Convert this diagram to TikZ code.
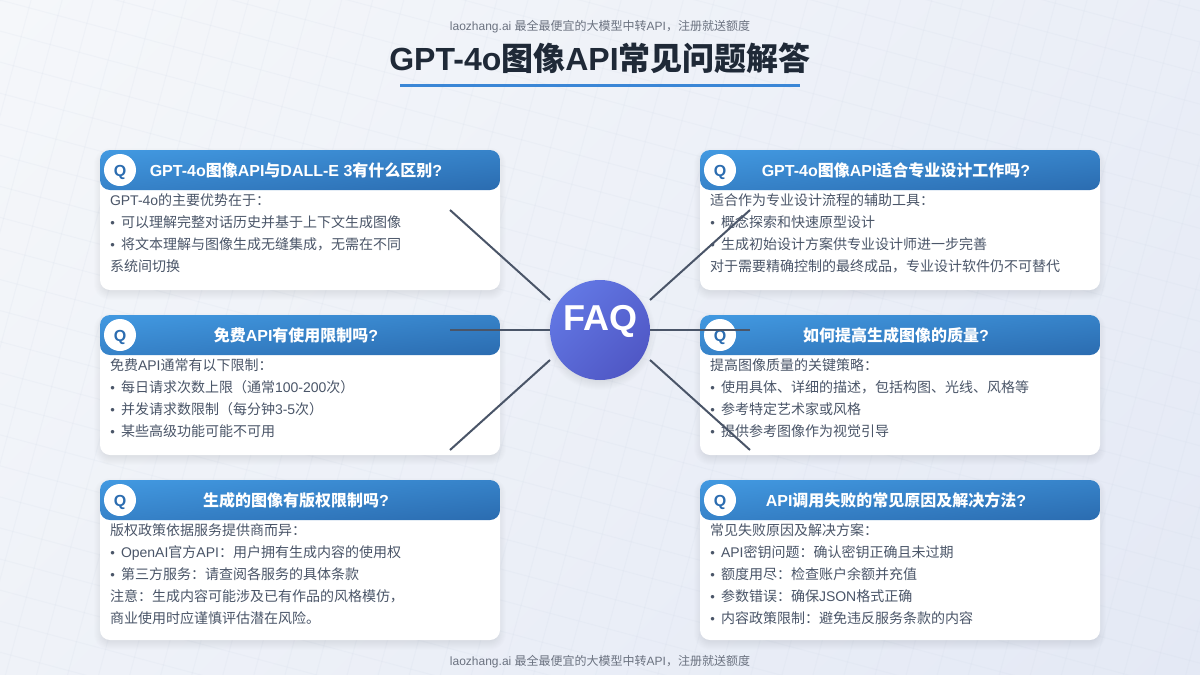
\documentclass[tikz,border=0pt]{standalone}
\usepackage{fontspec}
\setmainfont{Liberation Sans}
\newfontfamily\cjk{Noto Sans CJK SC}[FontFace={sb}{n}{Font=Noto Sans CJK SC Medium}]
\chardef\cjkcl=100
\count255="3000
\loop \XeTeXcharclass\count255=\cjkcl \ifnum\count255<"9FFF \advance\count255 by 1 \repeat
\count255="FF00
\loop \XeTeXcharclass\count255=\cjkcl \ifnum\count255<"FFEF \advance\count255 by 1 \repeat
\XeTeXinterchartoks 0 \cjkcl = {\cjk}
\XeTeXinterchartoks 4095 \cjkcl = {\cjk}
\XeTeXinterchartoks \cjkcl 0 = {\rmfamily}
\XeTeXinterchartoks \cjkcl 4095 = {\rmfamily}
\XeTeXinterchartokenstate=1
\definecolor{bgA}{HTML}{F5F7FA}
\definecolor{bgB}{HTML}{E4E9F5}
\definecolor{hdA}{HTML}{4299E1}
\definecolor{hdB}{HTML}{2B6CB0}
\definecolor{faqA}{HTML}{667EEA}
\definecolor{faqB}{HTML}{4C51BF}
\definecolor{ink}{HTML}{4A5568}
\definecolor{titleink}{HTML}{1F2937}
\definecolor{note}{HTML}{6B7280}
\definecolor{gridc}{HTML}{CBD5E5}
\definecolor{rulec}{HTML}{3A86D6}
\pgfdeclareverticalshading{hdrshade}{100bp}{color(0bp)=(hdB); color(14.64bp)=(hdB); color(85.36bp)=(hdA); color(100bp)=(hdA)}
\pgfdeclareverticalshading{faqshade}{100bp}{color(0bp)=(faqB); color(14.64bp)=(faqB); color(85.36bp)=(faqA); color(100bp)=(faqA)}
\pgfdeclareverticalshading{bgshade}{100bp}{color(0bp)=(bgB); color(32.3bp)=(bgB); color(67.7bp)=(bgA); color(100bp)=(bgA)}
\newcommand{\bul}{\makebox[11pt][l]{\kern0.4pt\raisebox{-0.8pt}{\fontsize{13}{13}\selectfont •}}}
\tikzset{
  txt/.style={inner sep=0pt,outer sep=0pt},
  bodytxt/.style={txt,anchor=base west,text=ink,font=\fontsize{14}{14}\selectfont},
  headtxt/.style={txt,anchor=base,text=white,font=\fontseries{sb}\fontsize{16}{16}\selectfont},
  notetxt/.style={txt,anchor=base,text=note,font=\fontsize{12}{12}\selectfont},
  cardbox/.style={rectangle,rounded corners=10pt,fill=white,minimum width=400pt,anchor=north west,inner sep=0pt,outer sep=0pt},
  headbox/.style={rectangle,minimum width=400pt,minimum height=40pt,anchor=north west,inner sep=0pt,outer sep=0pt},
  qbadge/.style={circle,fill=white,minimum size=32pt,inner sep=0pt,outer sep=0pt},
  qtxt/.style={txt,anchor=base,text=hdB,font=\bfseries\fontsize{16}{16}\selectfont},
  spoke/.style={draw=ink,line width=2pt},
}
% name, x, y, height, title, lines
\newcommand{\faqcard}[6]{%
  \foreach \s in {-6,...,6}{
    \fill[black,opacity=0.0083,rounded corners=10pt+\s pt]
      (#2-\s,#3+4-\s) rectangle (#2+400+\s,#3+#4+4+\s);
  }
  \node[cardbox,minimum height=#4 pt] (#1) at (#2,#3) {};
  \begin{scope}
    \clip[rounded corners=10pt] (#2,#3) rectangle (#2+400,#3+40);
    \shade[transform canvas={shift={(#2+200,#3+20)},yscale=0.1},shading=hdrshade,shading angle=45] (-200,-200) rectangle (200,200);
  \end{scope}
  \node[headbox] (#1h) at (#2,#3) {};
  \node[qbadge] (#1q) at (#2+20,#3+20) {};
  \node[qtxt] (#1qt) at (#2+20,#3+26) {Q};
  \node[headtxt] (#1t) at (#2+196,#3+26) {#5};
  \foreach \ln [count=\n from 0] in {#6}{
    \node[bodytxt] (#1l\n) at (#2+10,#3+55+22*\n) {\ln};
  }
}
\begin{document}
\begin{tikzpicture}[x=1pt,y=-1pt]
\useasboundingbox (0,0) rectangle (1200,675);
\begin{scope}
  \clip (0,0) rectangle (1200,675);
  \shade[shading=bgshade,shading angle=45] (-337.5,-600) rectangle (1537.5,1275);
  \begin{scope}[rotate around={-15:(0,0)}]
    \foreach \k in {-11,...,22}{
      \draw[gridc,opacity=0.13,line width=1pt] (-100,30*\k) -- (1500,30*\k);
    }
    \foreach \k in {-3,...,45}{
      \draw[gridc,opacity=0.13,line width=1pt] (30*\k,-400) -- (30*\k,800);
    }
  \end{scope}
\end{scope}

\node[notetxt] (topnote) at (600,30) {laozhang.ai 最全最便宜的大模型中转API，注册就送额度};
\node[txt,anchor=base,text=titleink,font=\bfseries\fontsize{32}{32}\selectfont] (title) at (600,70) {GPT-4o图像API常见问题解答};
\node[rectangle,fill=rulec,minimum width=400pt,minimum height=3pt,inner sep=0pt,outer sep=0pt] (titlerule) at (600,85) {};
\node[notetxt] (botnote) at (600,665) {laozhang.ai 最全最便宜的大模型中转API，注册就送额度};

\faqcard{c1}{100}{150}{140}{GPT-4o图像API与DALL-E 3有什么区别?}{GPT-4o的主要优势在于：,\bul 可以理解完整对话历史并基于上下文生成图像,\bul 将文本理解与图像生成无缝集成，无需在不同,系统间切换}
\faqcard{c2}{700}{150}{140}{GPT-4o图像API适合专业设计工作吗?}{适合作为专业设计流程的辅助工具：,\bul 概念探索和快速原型设计,\bul 生成初始设计方案供专业设计师进一步完善,对于需要精确控制的最终成品，专业设计软件仍不可替代}
\faqcard{c3}{100}{315}{140}{免费API有使用限制吗?}{免费API通常有以下限制：,\bul 每日请求次数上限（通常100-200次）,\bul 并发请求数限制（每分钟3-5次）,\bul 某些高级功能可能不可用}
\faqcard{c4}{700}{315}{140}{如何提高生成图像的质量?}{提高图像质量的关键策略：,\bul 使用具体、详细的描述，包括构图、光线、风格等,\bul 参考特定艺术家或风格,\bul 提供参考图像作为视觉引导}
\faqcard{c5}{100}{480}{160}{生成的图像有版权限制吗?}{版权政策依据服务提供商而异：,\bul OpenAI官方API：用户拥有生成内容的使用权,\bul 第三方服务：请查阅各服务的具体条款,注意：生成内容可能涉及已有作品的风格模仿，,商业使用时应谨慎评估潜在风险。}
\faqcard{c6}{700}{480}{160}{API调用失败的常见原因及解决方法?}{常见失败原因及解决方案：,\bul API密钥问题：确认密钥正确且未过期,\bul 额度用尽：检查账户余额并充值,\bul 参数错误：确保JSON格式正确,\bul 内容政策限制：避免违反服务条款的内容}

\foreach \s in {-6,...,6}{
  \fill[black,opacity=0.0083] (600,334) circle[radius=50+\s];
}
\node[circle,minimum size=100pt,inner sep=0pt,outer sep=0pt,shading=faqshade,shading angle=45] (faq) at (600,330) {};
\node[txt,anchor=base,text=white,font=\bfseries\fontsize{36}{36}\selectfont] (faqt) at (600,330) {FAQ};

\coordinate (s1a) at (450,210); \coordinate (s1b) at (550,300);
\coordinate (s2a) at (750,210); \coordinate (s2b) at (650,300);
\coordinate (s3a) at (450,330);
\coordinate (s4a) at (750,330);
\coordinate (s5a) at (450,450); \coordinate (s5b) at (550,360);
\coordinate (s6a) at (750,450); \coordinate (s6b) at (650,360);
\draw[spoke] (s1a) -- (s1b);
\draw[spoke] (s2a) -- (s2b);
\draw[spoke] (s3a) -- (faq.west);
\draw[spoke] (s4a) -- (faq.east);
\draw[spoke] (s5a) -- (s5b);
\draw[spoke] (s6a) -- (s6b);
\end{tikzpicture}
\end{document}
